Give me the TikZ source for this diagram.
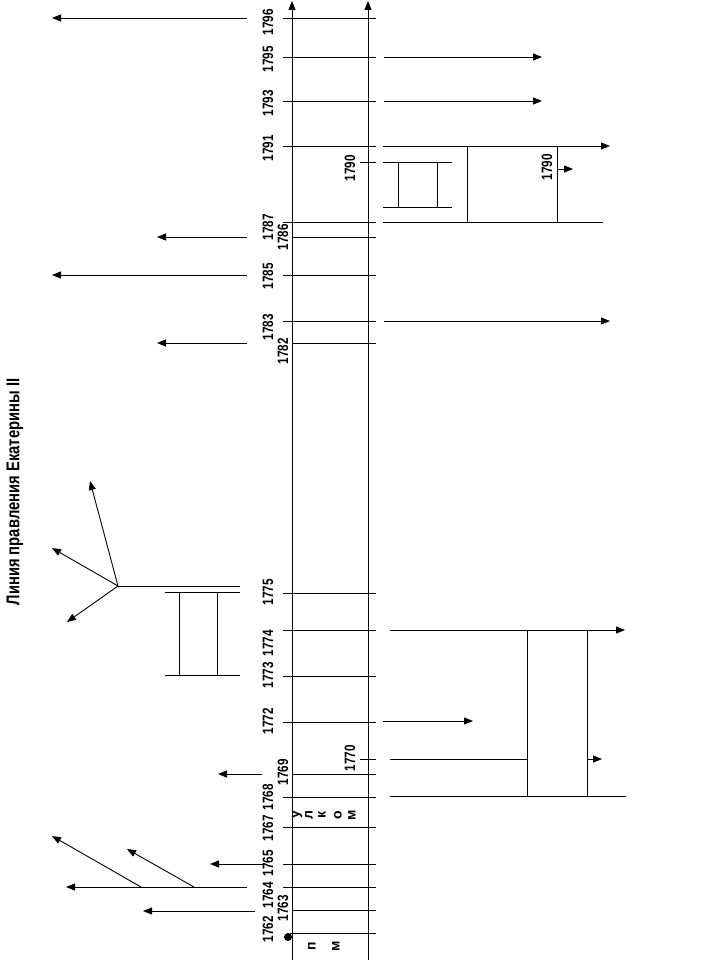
\documentclass[tikz,border=0pt]{standalone}
\usepackage{fontspec}
\setmainfont{Liberation Sans}
\usetikzlibrary{arrows.meta}
\newcommand{\nrw}[1]{\scalebox{0.78}[1]{#1}}
\tikzset{
  yl/.style={rotate=90, inner sep=0pt, font=\fontsize{15}{15}\selectfont\bfseries},
  lt/.style={rotate=90, inner sep=0pt, font=\fontsize{14}{14}\selectfont\bfseries},
  ln/.style={line width=0.9pt},
  ar/.style={line width=0.9pt, -{Triangle[length=9pt,width=7pt]}},
}
\begin{document}
\begin{tikzpicture}[x=1pt,y=-1pt]
\useasboundingbox (0,0) rectangle (720,960);
% title
\node[rotate=90, inner sep=0pt, font=\fontsize{18.5}{18.5}\selectfont\bfseries] (title) at (15,492) {\scalebox{0.8}[1]{Линия правления Екатерины II}};
% main axes
\coordinate (a1s) at (292,960); \coordinate (a1e) at (292,1);
\coordinate (a2s) at (368,960); \coordinate (a2e) at (368,1);
\draw[ar] (a1s) -- (a1e);
\draw[ar] (a2s) -- (a2e);
% year lines
\foreach \y in {18,57,101,146,222,275,321,593,630,676,722,797,827,864,887}
  \draw[ln] (283,\y) -- (376,\y);
\foreach \y in {237,343,774,910}
  \draw[ln] (292,\y) -- (376,\y);
\draw[ln] (290,933) -- (376,933);
\draw[ln] (360,162) -- (376,162);
\draw[ln] (360,759) -- (376,759);
\fill (288,937) circle (4);
% year labels
\node[yl] (y1796) at (268,22) {\nrw{1796}};
\node[yl] (y1795) at (268,59) {\nrw{1795}};
\node[yl] (y1793) at (268,103) {\nrw{1793}};
\node[yl] (y1791) at (268,148) {\nrw{1791}};
\node[yl] (y1787) at (268,227) {\nrw{1787}};
\node[yl] (y1786) at (283,237) {\nrw{1786}};
\node[yl] (y1785) at (268,276) {\nrw{1785}};
\node[yl] (y1783) at (268,327) {\nrw{1783}};
\node[yl] (y1782) at (283,351) {\nrw{1782}};
\node[yl] (y1790a) at (350,168) {\nrw{1790}};
\node[yl] (y1790b) at (547,167) {\nrw{1790}};
\node[yl] (y1775) at (268,592) {\nrw{1775}};
\node[yl] (y1774) at (268,643) {\nrw{1774}};
\node[yl] (y1773) at (268,675) {\nrw{1773}};
\node[yl] (y1772) at (268,721) {\nrw{1772}};
\node[yl] (y1770) at (350,758) {\nrw{1770}};
\node[yl] (y1769) at (283,772) {\nrw{1769}};
\node[yl] (y1768) at (268,797) {\nrw{1768}};
\node[yl] (y1767) at (268,828) {\nrw{1767}};
\node[yl] (y1765) at (268,863) {\nrw{1765}};
\node[yl] (y1764) at (268,895) {\nrw{1764}};
\node[yl] (y1763) at (283,908) {\nrw{1763}};
\node[yl] (y1762) at (268,929) {\nrw{1762}};
% letters
\node[lt] (l1) at (297,815) {у};
\node[lt] (l2) at (309,815) {л};
\node[lt] (l3) at (322,815) {к};
\node[lt] (l4) at (338,815) {о};
\node[lt] (l5) at (352,815) {м};
\node[lt] (l6) at (312,946) {п};
\node[lt] (l7) at (336,946) {м};
% left arrows top
\draw[ar] (247,18) -- (52,18);
\draw[ar] (247,237) -- (157,237);
\draw[ar] (247,275) -- (52,275);
\draw[ar] (247,343) -- (157,343);
% left middle fan
\coordinate (fan) at (118,586);
\draw[ln] (240,586) -- (fan);
\draw[ar] (fan) -- (90,481);
\draw[ar] (fan) -- (52,548);
\draw[ar] (fan) -- (67,622);
\draw[ln] (165,592) -- (240,592);
\draw[ln] (165,675) -- (240,675);
\draw[ln] (179,592) -- (179,675);
\draw[ln] (217,592) -- (217,675);
% left bottom arrows
\draw[ar] (262,774) -- (218,774);
\draw[ar] (263,864) -- (210,864);
\draw[ar] (247,887) -- (66,887);
\draw[ar] (141,887) -- (52,836);
\draw[ar] (194,887) -- (127,849);
\draw[ar] (255,911) -- (143,911);
% right upper
\draw[ar] (384,57) -- (542,57);
\draw[ar] (384,101) -- (542,101);
\draw[ar] (383,146) -- (610,146);
\draw[ln] (383,162) -- (452,162);
\draw[ln] (383,207) -- (452,207);
\draw[ln] (398,162) -- (398,207);
\draw[ln] (437,162) -- (437,207);
\draw[ln] (383,222) -- (603,222);
\draw[ln] (467,146) -- (467,222);
\draw[ln] (557,146) -- (557,222);
\draw[ar] (557,169) -- (573,169);
\draw[ar] (384,321) -- (610,321);
% right lower
\draw[ar] (390,630) -- (625,630);
\draw[ar] (383,721) -- (473,721);
\draw[ln] (390,759) -- (527,759);
\draw[ln] (390,796) -- (626,796);
\draw[ln] (527,630) -- (527,796);
\draw[ln] (587,630) -- (587,796);
\draw[ar] (587,759) -- (602,759);
\end{tikzpicture}
\end{document}
